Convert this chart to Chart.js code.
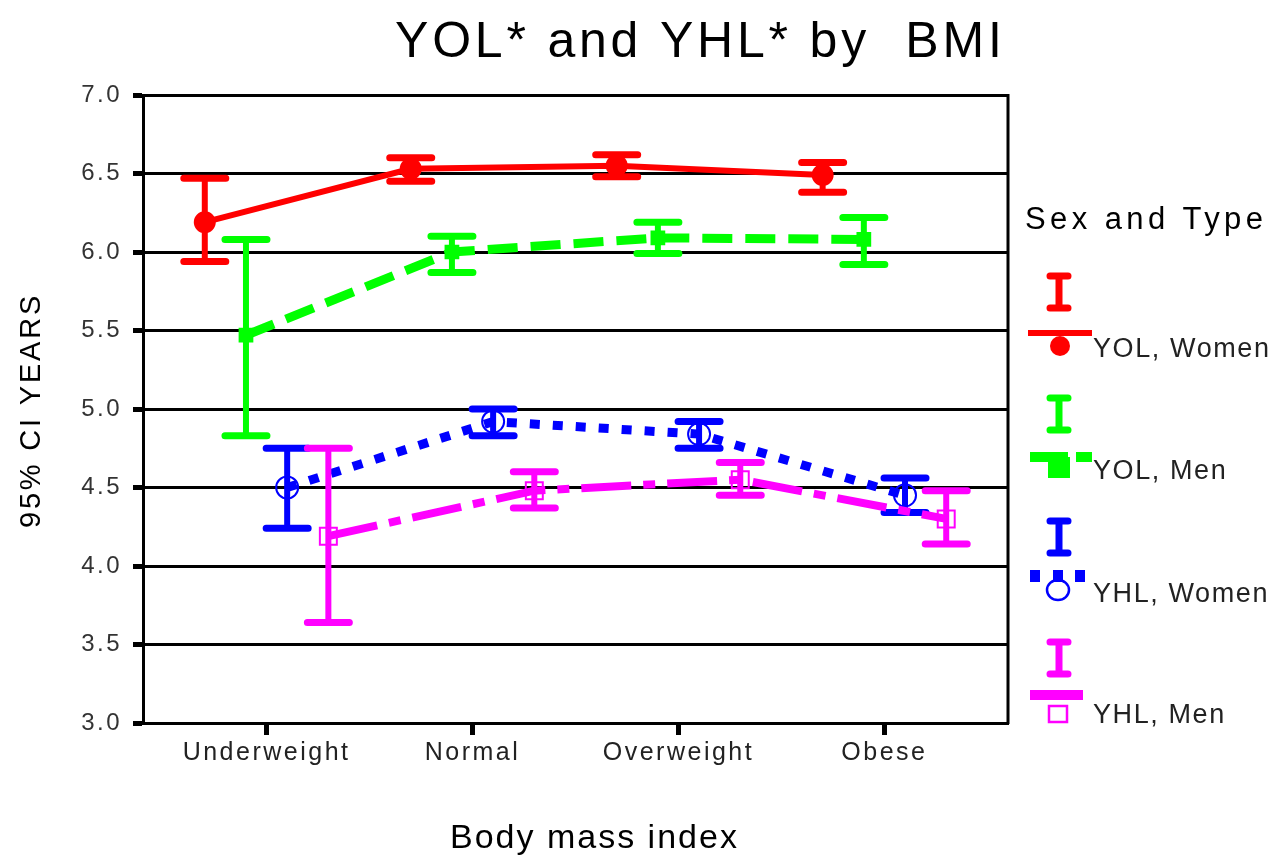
<!DOCTYPE html>
<html>
<head>
<meta charset="utf-8">
<script src="https://cdn.jsdelivr.net/npm/chart.js@4.4.0/dist/chart.umd.min.js"></script>
<style>
  html, body { margin: 0; padding: 0; background: #ffffff; }
  #wrap { width: 1275px; height: 858px; position: relative; }
  canvas { display: block; }
</style>
</head>
<body>
<div id="wrap"><canvas id="c" width="1275" height="858"></canvas></div>
<script>
// ---------------- data ----------------
const categories = ['Underweight', 'Normal', 'Overweight', 'Obese'];
const seriesNames = ['YOL, Women', 'YOL, Men', 'YHL, Women', 'YHL, Men'];

const yolWomenMean = [6.19, 6.53, 6.55, 6.49];
const yolWomenLow  = [5.94, 6.45, 6.48, 6.38];
const yolWomenHigh = [6.47, 6.60, 6.62, 6.57];

const yolMenMean = [5.47, 6.00, 6.09, 6.08];
const yolMenLow  = [4.83, 5.87, 5.99, 5.92];
const yolMenHigh = [6.08, 6.10, 6.19, 6.22];

const yhlWomenMean = [4.50, 4.92, 4.84, 4.45];
const yhlWomenLow  = [4.24, 4.83, 4.75, 4.34];
const yhlWomenHigh = [4.75, 5.00, 4.92, 4.56];

const yhlMenMean = [4.19, 4.48, 4.55, 4.30];
const yhlMenLow  = [3.64, 4.37, 4.45, 4.14];
const yhlMenHigh = [4.75, 4.60, 4.66, 4.48];

const yTickValues = [3.0, 3.5, 4.0, 4.5, 5.0, 5.5, 6.0, 6.5, 7.0];

const chartTitle = 'YOL* and YHL* by  BMI';
const xAxisTitle = 'Body mass index';
const yAxisTitle = '95% CI YEARS';
const legendTitle = 'Sex and Type';

// ---------------- styles ----------------
const FONT = '"Liberation Sans", Arial, Helvetica, sans-serif';
const clusterOffsets = [-0.3, -0.1, 0.1, 0.3];
const styles = [
  { color: '#ff0000', width: 6, dash: [], pointStyle: 'circle', radius: 10, fill: true },
  { color: '#00ff00', width: 9, dash: [30, 13], pointStyle: 'rect', radius: 9, fill: true },
  { color: '#0000ff', width: 9, dash: [10, 13], pointStyle: 'circle', radius: 11, fill: false },
  { color: '#ff00ff', width: 8, dash: [50, 12, 12, 12], pointStyle: 'rect', radius: 12, fill: false }
];
const means = [yolWomenMean, yolMenMean, yhlWomenMean, yhlMenMean];
const lows = [yolWomenLow, yolMenLow, yhlWomenLow, yhlMenLow];
const highs = [yolWomenHigh, yolMenHigh, yhlWomenHigh, yhlMenHigh];

const datasets = seriesNames.map((name, i) => {
  const s = styles[i];
  return {
    label: name,
    data: means[i].map((v, j) => ({ x: j + 1 + clusterOffsets[i], y: v })),
    ciLow: lows[i],
    ciHigh: highs[i],
    borderColor: s.color,
    backgroundColor: s.color,
    borderWidth: s.width,
    borderDash: s.dash,
    borderCapStyle: 'butt',
    tension: 0,
    fill: false,
    pointStyle: s.pointStyle,
    pointRadius: s.radius,
    pointHoverRadius: s.radius,
    pointBorderWidth: 2,
    pointBorderColor: s.color,
    pointBackgroundColor: s.fill ? s.color : 'rgba(0,0,0,0)',
    order: 3 - i
  };
});

// ---------------- plugins ----------------
const textSpacing = {
  id: 'textSpacing',
  beforeDraw(chart) { chart.ctx.letterSpacing = '2.5px'; }
};

const errorBars = {
  id: 'errorBars',
  afterDatasetDraw(chart, args) {
    const ds = chart.data.datasets[args.index];
    const xs = chart.scales.x, ys = chart.scales.y;
    const ctx = chart.ctx;
    ctx.save();
    ctx.setLineDash([]);
    ctx.strokeStyle = ds.borderColor;
    ds.data.forEach((p, j) => {
      const x = xs.getPixelForValue(p.x);
      const yl = ys.getPixelForValue(ds.ciLow[j]);
      const yh = ys.getPixelForValue(ds.ciHigh[j]);
      ctx.lineWidth = 6;
      ctx.lineCap = 'butt';
      ctx.beginPath(); ctx.moveTo(x, yl); ctx.lineTo(x, yh); ctx.stroke();
      ctx.lineCap = 'round';
      ctx.lineWidth = 7;
      ctx.beginPath();
      ctx.moveTo(x - 21, yl); ctx.lineTo(x + 21, yl);
      ctx.moveTo(x - 21, yh); ctx.lineTo(x + 21, yh);
      ctx.stroke();
    });
    ctx.restore();
  }
};

function spacedText(ctx, text, x, y, font, spacing, color, align) {
  ctx.save();
  ctx.font = font;
  ctx.letterSpacing = spacing;
  ctx.fillStyle = color;
  ctx.textAlign = align || 'left';
  ctx.textBaseline = 'alphabetic';
  ctx.fillText(text, x, y);
  ctx.restore();
}

const decorations = {
  id: 'decorations',
  afterDraw(chart) {
    const ctx = chart.ctx;
    const a = chart.chartArea;
    // right frame
    ctx.save();
    ctx.strokeStyle = '#000';
    ctx.lineWidth = 3;
    ctx.beginPath(); ctx.moveTo(a.right, a.top - 1); ctx.lineTo(a.right, a.bottom + 1); ctx.stroke();
    ctx.restore();

    // titles
    spacedText(ctx, chartTitle, 395, 57, '50px ' + FONT, '3.8px', '#000');
    spacedText(ctx, xAxisTitle, 450, 848, '34px ' + FONT, '2px', '#000');
    ctx.save();
    ctx.translate(40, 528);
    ctx.rotate(-Math.PI / 2);
    spacedText(ctx, yAxisTitle, 0, 0, '29px ' + FONT, '2.8px', '#000');
    ctx.restore();

    // legend
    spacedText(ctx, legendTitle, 1025, 229, '31px ' + FONT, '4.4px', '#000');
    const bases = [273, 395, 518, 639];
    const cx = 1059;
    chart.data.datasets.forEach((ds, i) => {
      const B = bases[i];
      const col = ds.borderColor;
      ctx.save();
      ctx.strokeStyle = col; ctx.fillStyle = col;
      // error-bar glyph
      ctx.lineCap = 'butt'; ctx.lineWidth = 7;
      ctx.beginPath(); ctx.moveTo(cx, B + 3); ctx.lineTo(cx, B + 35); ctx.stroke();
      ctx.lineCap = 'round'; ctx.lineWidth = 7;
      ctx.beginPath();
      ctx.moveTo(cx - 9, B + 3); ctx.lineTo(cx + 9, B + 3);
      ctx.moveTo(cx - 9, B + 35); ctx.lineTo(cx + 9, B + 35);
      ctx.stroke();
      // line sample
      ctx.lineCap = 'butt';
      if (i === 0) {
        ctx.lineWidth = 6;
        ctx.beginPath(); ctx.moveTo(1028, B + 60); ctx.lineTo(1092, B + 60); ctx.stroke();
        ctx.beginPath(); ctx.arc(1060, B + 73, 10, 0, Math.PI * 2); ctx.fill();
      } else if (i === 1) {
        ctx.lineWidth = 10;
        ctx.beginPath(); ctx.moveTo(1030, B + 62); ctx.lineTo(1068, B + 62);
        ctx.moveTo(1076, B + 62); ctx.lineTo(1092, B + 62); ctx.stroke();
        ctx.fillRect(1048, B + 62, 22, 21);
      } else if (i === 2) {
        ctx.fillRect(1030, B + 52, 10, 12);
        ctx.fillRect(1053, B + 52, 10, 12);
        ctx.fillRect(1075, B + 52, 10, 12);
        ctx.lineWidth = 2.5;
        ctx.beginPath(); ctx.ellipse(1058, B + 72, 11, 10, 0, 0, Math.PI * 2); ctx.stroke();
      } else {
        ctx.lineWidth = 10;
        ctx.beginPath(); ctx.moveTo(1030, B + 56); ctx.lineTo(1083, B + 56); ctx.stroke();
        ctx.lineWidth = 2.5;
        ctx.strokeRect(1049, B + 67, 18, 16);
      }
      ctx.restore();
      spacedText(ctx, ds.label, 1093, B + 84, '27px ' + FONT, '1.6px', '#222');
    });
  }
};

// ---------------- chart ----------------
new Chart(document.getElementById('c'), {
  type: 'line',
  data: { datasets },
  options: {
    responsive: false,
    animation: false,
    events: [],
    layout: { padding: { top: 95, right: 267, bottom: 0, left: 0 } },
    plugins: {
      legend: { display: false },
      title: { display: false },
      tooltip: { enabled: false }
    },
    scales: {
      x: {
        type: 'linear',
        min: 0.4,
        max: 4.6,
        afterFit(scale) { scale.height = 135; },
        afterBuildTicks(scale) { scale.ticks = categories.map((c, i) => ({ value: i + 1 })); },
        ticks: {
          autoSkip: false,
          maxRotation: 0,
          padding: 3,
          color: '#222',
          font: { family: FONT, size: 25 },
          callback: (v) => categories[Math.round(v) - 1]
        },
        grid: {
          drawOnChartArea: false,
          drawTicks: true,
          tickLength: 12,
          tickWidth: 5,
          tickColor: '#000'
        },
        border: { display: true, color: '#000', width: 3 }
      },
      y: {
        type: 'linear',
        min: 3,
        max: 7,
        afterFit(scale) { scale.width = 143; },
        afterBuildTicks(scale) { scale.ticks = yTickValues.map(v => ({ value: v })); },
        ticks: {
          padding: 11,
          color: '#333',
          font: { family: FONT, size: 24 },
          callback: (v) => Number(v).toFixed(1)
        },
        grid: {
          color: '#000',
          lineWidth: 3,
          drawTicks: true,
          tickLength: 10,
          tickWidth: 5,
          tickColor: '#000'
        },
        border: { display: true, color: '#000', width: 3 }
      }
    }
  },
  plugins: [textSpacing, errorBars, decorations]
});
</script>
</body>
</html>
